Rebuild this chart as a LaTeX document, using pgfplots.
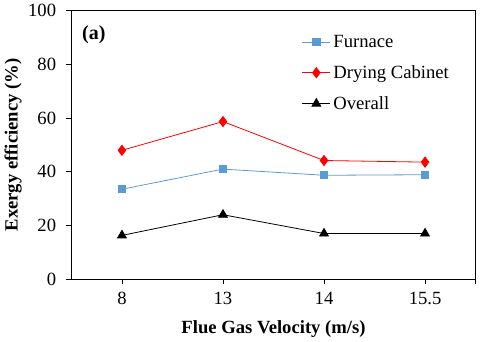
\documentclass[border=0pt]{standalone}
\usepackage{fontspec}
\setmainfont{Liberation Serif}
\usepackage{pgfplots}
\pgfplotsset{compat=1.18}
\definecolor{furn}{RGB}{91,155,213}
\begin{document}
\begin{tikzpicture}
\path (0,0) rectangle (360pt,-255pt);
\begin{axis}[
  at={(53.25pt,-209.25pt)}, anchor=south west,
  scale only axis, width=303.75pt, height=201.75pt,
  xmin=-0.5, xmax=3.5, ymin=0, ymax=100,
  xtick={0,1,2,3}, xticklabels={8,13,14,15.5},
  extra x ticks={3.5}, extra x tick labels={},
  ytick={0,20,40,60,80,100},
  tick align=outside, tick pos=left,
  major tick length=4pt,
  axis line style={black, line width=0.6pt},
  tick style={black, line width=0.6pt},
  /pgf/number format/assume math mode=true,
  ticklabel style={font=\fontsize{14pt}{16pt}\selectfont},
  xticklabel style={yshift=-2pt},
  yticklabel style={xshift=-4pt},
  xlabel={\textbf{Flue Gas Velocity (m/s)}},
  ylabel={\textbf{Exergy efficiency (\%)}},
  label style={font=\fontsize{14pt}{16pt}\selectfont},
  xlabel style={yshift=3pt},
  ylabel style={yshift=-2pt},
  legend style={draw=none, fill=none, at={(0.56,0.93)}, anchor=north west,
    font=\fontsize{14pt}{16pt}\selectfont, row sep=8pt,
    legend cell align=left},
  legend image code/.code={\draw[#1] (0pt,0pt) -- (21pt,0pt); \path[#1,mark repeat=2,mark phase=2] plot coordinates {(0pt,0pt) (10.5pt,0pt) (21pt,0pt)};},
]
\addplot[furn, line width=0.6pt, mark=square*, mark size=2.7pt, mark options={solid}] coordinates {(0,33.5) (1,41.0) (2,38.7) (3,38.9)};
\addlegendentry{Furnace}
\addplot[red, line width=0.6pt, mark=diamond*, mark size=3.8pt] coordinates {(0,48.0) (1,58.7) (2,44.2) (3,43.6)};
\addlegendentry{Drying Cabinet}
\addplot[black, line width=0.6pt, mark=triangle*, mark size=3.8pt] coordinates {(0,16.3) (1,24.0) (2,17.0) (3,17.0)};
\addlegendentry{Overall}
\node[font=\fontsize{15pt}{17pt}\selectfont\bfseries, anchor=west] at (rel axis cs:0.015,0.91) {(a)};
\end{axis}
\end{tikzpicture}
\end{document}
